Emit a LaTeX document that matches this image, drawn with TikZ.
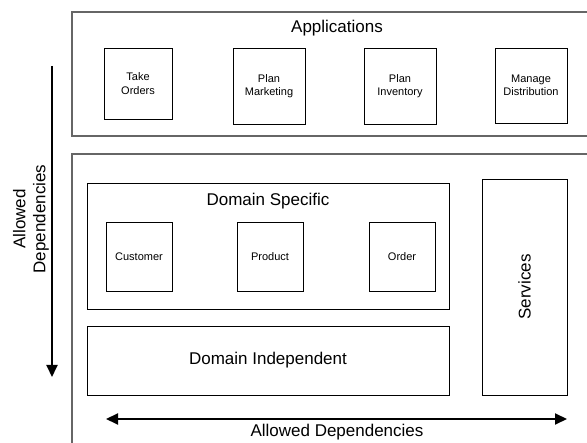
\documentclass[tikz,border=0pt]{standalone}
\usepackage{fontspec}
\setmainfont{Liberation Sans}
\usetikzlibrary{arrows.meta}
\definecolor{outerc}{HTML}{666666}
\tikzset{
  outerbox/.style={draw=outerc, line width=1.6pt, anchor=north west, inner sep=0pt},
  innerbox/.style={draw=black, line width=0.9pt, inner sep=0pt, align=center, font=\fontsize{11}{13.5}\selectfont},
  bigtext/.style={font=\fontsize{17}{20}\selectfont, inner sep=0pt, align=center},
  deparrow/.style={line width=2pt, -{Triangle[width=11pt,length=12pt]}},
  deparrows/.style={line width=2pt, {Triangle[width=11pt,length=12pt]}-{Triangle[width=11pt,length=12pt]}}
}
\begin{document}
\begin{tikzpicture}[x=1pt,y=-1pt]
\useasboundingbox (0,0) rectangle (587,443);
\clip (0,0) rectangle (587,443);
% Applications layer
\node[outerbox, minimum width=540pt, minimum height=124pt] (apps) at (71,11) {};
\node[bigtext] (appstitle) at (337,28) {Applications};
\node[innerbox, minimum width=68pt, minimum height=71pt] (take) at (138,83.5) {Take\\Orders};
\node[innerbox, minimum width=72pt, minimum height=76pt] (mkt) at (269,86) {Plan\\Marketing};
\node[innerbox, minimum width=72pt, minimum height=76pt] (inv) at (400,86) {Plan\\Inventory};
\node[innerbox, minimum width=72pt, minimum height=75pt] (dist) at (531,85.5) {Manage\\Distribution};
% Lower layer
\node[outerbox, minimum width=540pt, minimum height=320pt] (lower) at (71,153) {};
\node[draw=black, line width=0.9pt, minimum width=362pt, minimum height=126pt, inner sep=0pt] (dspec) at (268,246) {};
\node[bigtext] (dspectitle) at (268,201) {Domain Specific};
\node[innerbox, minimum width=66pt, minimum height=69pt] (cust) at (139,256.5) {Customer};
\node[innerbox, minimum width=66pt, minimum height=69pt] (prod) at (270,256.5) {Product};
\node[innerbox, minimum width=66pt, minimum height=69pt] (ord) at (402,256.5) {Order};
\node[draw=black, line width=0.9pt, minimum width=362pt, minimum height=69pt, inner sep=0pt, bigtext] (dind) at (268,360.5) {Domain Independent};
\node[draw=black, line width=0.9pt, minimum width=85pt, minimum height=216pt, inner sep=0pt] (serv) at (524.5,287) {};
\node[bigtext, rotate=90] (servtext) at (524.5,287) {Services};
% Allowed dependencies arrows
\coordinate (vtop) at (52,66);
\coordinate (vbot) at (52,377);
\draw[deparrow] (vtop) -- (vbot);
\node[bigtext, rotate=90] (vlabel) at (31,219) {Allowed\\Dependencies};
\coordinate (hleft) at (106,419);
\coordinate (hright) at (567,419);
\draw[deparrows] (hleft) -- (hright);
\node[bigtext] (hlabel) at (337,432) {Allowed Dependencies};
\end{tikzpicture}
\end{document}
